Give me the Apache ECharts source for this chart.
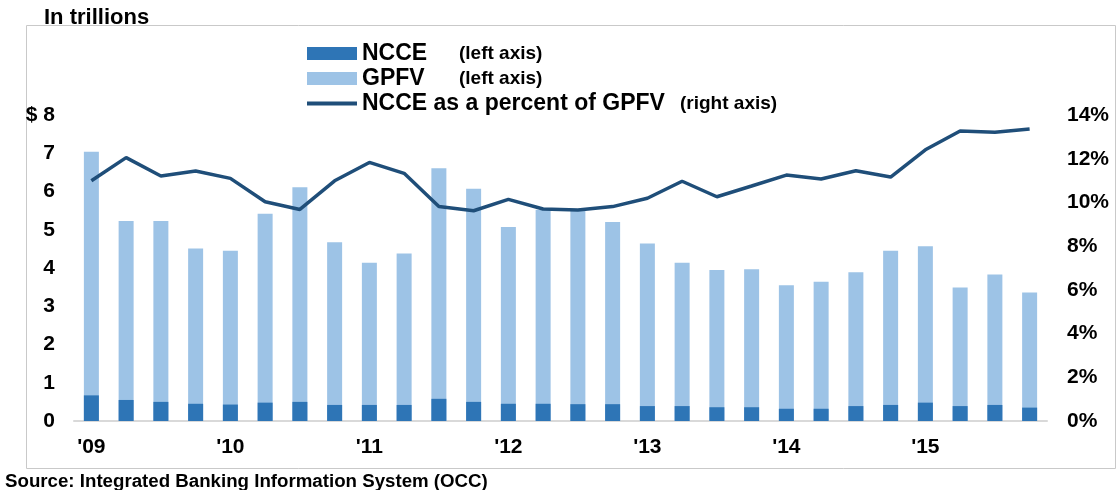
<!DOCTYPE html>
<html>
<head>
<meta charset="utf-8">
<script src="https://cdn.jsdelivr.net/npm/echarts@6/dist/echarts.min.js"></script>
<style>
  html, body { margin: 0; padding: 0; background: #fff; }
  #chart { width: 1116px; height: 490px; }
</style>
</head>
<body>
<div id="chart"></div>
<script>
const quarters = [
  '2009Q1', '2009Q2', '2009Q3', '2009Q4',
  '2010Q1', '2010Q2', '2010Q3', '2010Q4',
  '2011Q1', '2011Q2', '2011Q3', '2011Q4',
  '2012Q1', '2012Q2', '2012Q3', '2012Q4',
  '2013Q1', '2013Q2', '2013Q3', '2013Q4',
  '2014Q1', '2014Q2', '2014Q3', '2014Q4',
  '2015Q1', '2015Q2', '2015Q3', '2015Q4'
]
const yearLabels = ["'09", "'10", "'11", "'12", "'13", "'14", "'15"]

// trillions of dollars
const gpfv = [
  7.04, 5.23, 5.23, 4.51, 4.45, 5.42, 6.11, 4.67,
  4.14, 4.38, 6.61, 6.07, 5.07, 5.52, 5.52, 5.20,
  4.64, 4.14, 3.95, 3.97, 3.55, 3.64, 3.89, 4.45,
  4.57, 3.49, 3.83, 3.36
]
const ncce = [
  0.67, 0.55, 0.50, 0.45, 0.43, 0.48, 0.50, 0.42,
  0.42, 0.42, 0.58, 0.50, 0.45, 0.45, 0.44, 0.44,
  0.39, 0.39, 0.36, 0.36, 0.32, 0.32, 0.39, 0.42,
  0.48, 0.39, 0.42, 0.35
]
// percent
const ncceShare = [
  10.99, 12.05, 11.21, 11.44, 11.10, 10.03, 9.68, 10.99,
  11.83, 11.33, 9.81, 9.62, 10.14, 9.70, 9.65, 9.81,
  10.19, 10.97, 10.26, 10.75, 11.25, 11.07, 11.45, 11.16,
  12.41, 13.27, 13.21, 13.36
]

const FONT = '"Liberation Sans", Arial, sans-serif'
const labelStyle = { color: '#000', fontFamily: FONT, fontWeight: 'bold', fontSize: 21 }

const option = {
  animation: false,
  grid: { left: 74, right: 69, top: 115, bottom: 69 },
  legend: {
    left: 305,
    top: 42,
    padding: 0,
    orient: 'vertical',
    itemWidth: 50,
    itemHeight: 13,
    itemGap: 2,
    data: [
      { name: 'NCCE', icon: 'rect' },
      { name: 'GPFV', icon: 'rect' },
      // hide the marker dot, keep just the line
      {
        name: 'NCCE as a percent of GPFV',
        itemStyle: { color: 'rgba(0,0,0,0)', borderWidth: 0, opacity: 0 },
        lineStyle: { width: 4 }
      }
    ],
    formatter: function (name) {
      if (name === 'NCCE') return '{n|NCCE}{s|(left axis)}'
      if (name === 'GPFV') return '{n|GPFV}{s|(left axis)}'
      return '{m|' + name + '}{s|(right axis)}'
    },
    textStyle: {
      fontFamily: FONT,
      rich: {
        n: { width: 97, fontSize: 23, fontWeight: 'bold', color: '#000', fontFamily: FONT, lineHeight: 25 },
        m: { width: 318, fontSize: 23, fontWeight: 'bold', color: '#000', fontFamily: FONT, lineHeight: 25 },
        s: { fontSize: 19, fontWeight: 'bold', color: '#000', fontFamily: FONT, lineHeight: 25 }
      }
    }
  },
  graphic: [
    {
      type: 'rect',
      shape: { x: 26.5, y: 25.5, width: 1089, height: 443 },
      style: { fill: 'none', stroke: '#c9c9c9', lineWidth: 1 },
      z: -10
    },
    {
      type: 'text',
      left: 44,
      top: 7,
      style: { text: 'In trillions', fill: '#000', font: 'bold 22px ' + FONT }
    },
    {
      type: 'text',
      left: 5,
      top: 472,
      style: { text: 'Source: Integrated Banking Information System (OCC)', fill: '#000', font: 'bold 18.7px ' + FONT }
    }
  ],
  xAxis: {
    type: 'category',
    data: quarters,
    axisTick: { show: false },
    axisLine: { lineStyle: { color: '#d9d9d9', width: 2 } },
    axisLabel: Object.assign({}, labelStyle, {
      interval: 0,
      margin: 16,
      formatter: function (v, i) { return i % 4 === 0 ? yearLabels[i / 4] : '' }
    })
  },
  yAxis: [
    {
      type: 'value',
      min: 0,
      max: 8,
      interval: 1,
      splitLine: { show: false },
      axisLine: { show: false },
      axisTick: { show: false },
      axisLabel: Object.assign({}, labelStyle, {
        margin: 19,
        formatter: function (v) { return v === 8 ? '$ 8' : String(v) }
      })
    },
    {
      type: 'value',
      min: 0,
      max: 14,
      interval: 2,
      splitLine: { show: false },
      axisLine: { show: false },
      axisTick: { show: false },
      axisLabel: Object.assign({}, labelStyle, { margin: 20, formatter: '{value}%' })
    }
  ],
  series: [
    {
      name: 'GPFV',
      type: 'bar',
      data: gpfv,
      barWidth: 15,
      itemStyle: { color: '#9dc3e6' }
    },
    {
      name: 'NCCE',
      type: 'bar',
      data: ncce,
      barWidth: 15,
      barGap: '-100%',
      itemStyle: { color: '#2e75b6' }
    },
    {
      name: 'NCCE as a percent of GPFV',
      type: 'line',
      yAxisIndex: 1,
      data: ncceShare,
      symbol: 'none',
      z: 5,
      lineStyle: { color: '#1f4e79', width: 3.5 },
      itemStyle: { color: '#1f4e79' }
    }
  ]
}

const myChart = echarts.init(document.getElementById('chart'))
myChart.setOption(option)
</script>
</body>
</html>
